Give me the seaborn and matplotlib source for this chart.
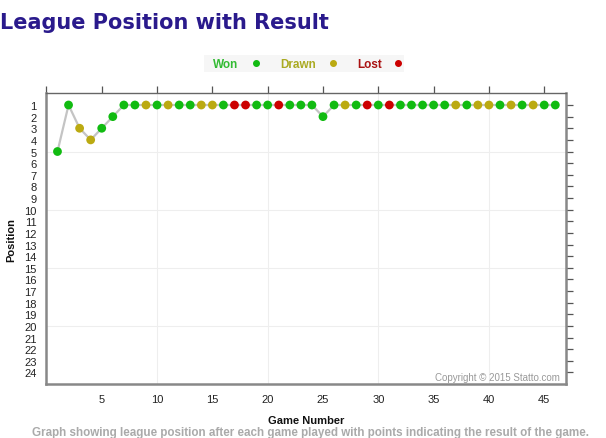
import matplotlib
matplotlib.use("Agg")
import matplotlib.pyplot as plt
import seaborn as sns
import pandas as pd
import numpy as np

games = list(range(1, 47))
positions = [5, 1, 3, 4, 3, 2, 1, 1, 1, 1,
             1, 1, 1, 1, 1, 1, 1, 1, 1, 1,
             1, 1, 1, 1, 2, 1, 1, 1, 1, 1,
             1, 1, 1, 1, 1, 1, 1, 1, 1, 1,
             1, 1, 1, 1, 1, 1]
results = ["W", "W", "D", "D", "W", "W", "W", "W", "D", "W",
           "D", "W", "W", "D", "D", "W", "L", "L", "W", "W",
           "L", "W", "W", "W", "W", "W", "D", "W", "L", "W",
           "L", "W", "W", "W", "W", "W", "D", "W", "D", "D",
           "W", "D", "W", "D", "W", "W"]
y_ticks = list(range(1, 25))
x_ticks = [5, 10, 15, 20, 25, 30, 35, 40, 45]

point_colors = {"W": "#11bb11", "D": "#bbaa11", "L": "#cc0000"}
legend_text_colors = {"W": "#33bb33", "D": "#aaaa22", "L": "#aa1111"}
legend_names = {"W": "Won", "D": "Drawn", "L": "Lost"}

df = pd.DataFrame({"game": games, "position": positions, "result": results})

sns.set_style("white")
plt.rcParams['font.family'] = ['Liberation Sans', 'DejaVu Sans']

fig = plt.figure(figsize=(6.06, 4.39), dpi=100)
ax = fig.add_axes([0.0766, 0.123, 0.858, 0.662])

sns.lineplot(data=df, x="game", y="position", color="#c4c4c4", linewidth=1.6, ax=ax,
             zorder=2, legend=False)
sns.scatterplot(data=df, x="game", y="position", hue="result", palette=point_colors,
                s=40, edgecolor="none", ax=ax, zorder=3, legend=False)

ax.set_xlim(0, 47)
ax.set_ylim(25, 0)

grid_c = "#eeeeee"
for gx in [10, 20, 30, 40]:
    ax.axvline(gx, color=grid_c, lw=0.8, zorder=0)
for gy in [5, 10, 15, 20]:
    ax.axhline(gy, color=grid_c, lw=0.8, zorder=0)

ax.set_xticks([0] + x_ticks)
ax.set_xticklabels([""] + [str(v) for v in x_ticks], fontsize=8, color="#222222")
ax.set_yticks(y_ticks)
ax.set_yticklabels([str(v) for v in y_ticks], fontsize=8, color="#222222")
ax.tick_params(axis="both", direction="out", length=5, width=0.9, color="#555555",
               top=True, right=True, labeltop=False, labelright=False, pad=2)
for name, s in ax.spines.items():
    s.set_color("#888888")
    s.set_linewidth(1.8)
ax.spines["top"].set_color("#666666")
ax.spines["top"].set_linewidth(1.0)

ax.set_xlabel("Game Number", fontsize=8, fontweight="bold", color="#111111", labelpad=8)
ax.set_ylabel("Position", fontsize=8, fontweight="bold", color="#111111", labelpad=6)

ax.text(0.987, 0.008, "Copyright \u00a9 2015 Statto.com", transform=ax.transAxes,
        ha="right", va="bottom", fontsize=7, color="#999999")

fig.text(0.0, 0.948, "League Position with Result", fontsize=15, fontweight="bold",
         color="#2a1a8c", family=["DejaVu Sans"], ha="left", va="center")

# legend box
fig.patches.append(matplotlib.patches.Rectangle((0.337, 0.834), 0.33, 0.038,
                   transform=fig.transFigure, facecolor="#f6f6f6", edgecolor="none"))
leg_items = [("W", 0.352, 0.4225), ("D", 0.462, 0.55), ("L", 0.59, 0.656)]
for key, tx, mx in leg_items:
    fig.text(tx, 0.852, legend_names[key], fontsize=8.5, fontweight="bold",
             color=legend_text_colors[key], ha="left", va="center")
    fig.add_artist(matplotlib.lines.Line2D([mx], [0.854], marker="o", markersize=4,
                   color=point_colors[key], transform=fig.transFigure, linestyle="none"))

fig.text(0.513, 0.001, "Graph showing league position after each game played with points indicating the result of the game.",
         fontsize=8.4, fontweight="bold", color="#aaaaaa", ha="center", va="bottom")

fig.savefig("out.png", dpi=100)
